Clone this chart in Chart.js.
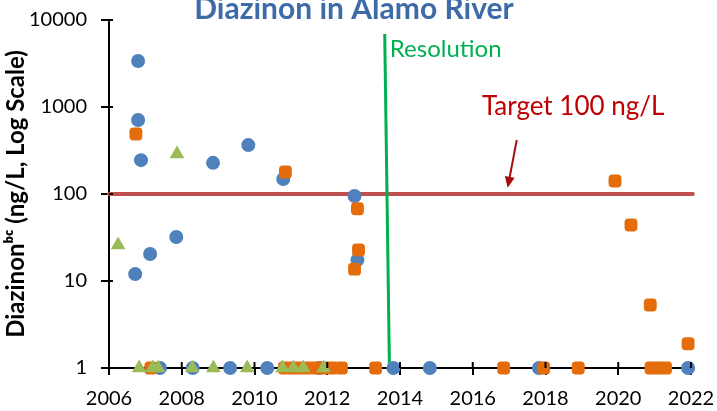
<!DOCTYPE html>
<html><head><meta charset="utf-8">
<script src="https://cdn.jsdelivr.net/npm/chart.js@4.4.1/dist/chart.umd.min.js"></script>
<style>html,body{margin:0;padding:0;background:#fff;}#wrap{width:717px;height:411px;}</style>
</head><body><div id="wrap"><canvas id="c" width="717" height="411"></canvas></div>
<script>
// Blue circles
const blueX = [2006.80,2006.80,2006.88,2006.72,2007.13,2007.85,2008.86,2009.83,2010.79,2012.75,2012.83,
               2007.40,2008.30,2009.33,2010.35,2011.78,2013.82,2014.82,2017.82,2021.92];
const blueY = [3380,710,245,12,20.4,32,228,365,149,95,17.5,
               1,1,1,1,1,1,1,1,1];
// Orange squares
const orangeX = [2006.74,2010.85,2012.83,2012.86,2012.75,2019.91,2020.35,2020.88,2021.92,
                 2007.15,2010.82,2011.04,2011.26,2011.48,2011.70,2011.92,2012.14,2012.39,2013.33,2016.85,2017.95,2018.90,2020.90,2021.10,2021.30];
const orangeY = [490,179,67.6,22.7,13.7,141,44,5.3,1.9,
                 1,1,1,1,1,1,1,1,1,1,1,1,1,1,1,1];
// Green triangles
const greenX = [2006.25,2007.87,2006.83,2007.20,2007.35,2008.29,2008.87,2009.80,2010.77,2011.07,2011.34,2011.90];
const greenY = [26,288,1,1,1,1,1,1,1,1,1,1];
// Target line and resolution line
const targetX = [2006,2022.05];
const targetY = [100,100];
const resolutionX = [2013.58,2013.71];
const resolutionY = [6900,1];
const xTicks = [2006,2008,2010,2012,2014,2016,2018,2020,2022];
const yTicks = [1,10,100,1000,10000];
// annotation anchors (data coords)
const targetLabel = {x:2018.76, y:1010, text:'Target 100 ng/L'};
const arrowFrom = {x:2017.21, y:418};
const arrowTo = {x:2016.96, y:118};
const resolutionLabel = {x:2013.72, y:4600, text:'Resolution'};
const titleText = 'Diazinon in Alamo River';
const yTitle = 'Diazinon\u1D47\u1D9C (ng/L, Log Scale)';

const pts = (xs, ys) => xs.map((x,i)=>({x:x,y:ys[i]}));
const FONT = 'Lato, "Open Sans", sans-serif';

const annot = {
  id:'annot',
  afterDraw(chart){
    const ctx = chart.ctx, xs = chart.scales.x, ys = chart.scales.y;
    const px = v=>xs.getPixelForValue(v), py = v=>ys.getPixelForValue(v);
    ctx.save();
    // inner tick marks (crossing)
    ctx.strokeStyle='#000'; ctx.lineWidth=2;
    xTicks.forEach(t=>{const x=px(t); ctx.beginPath(); ctx.moveTo(x,ys.bottom); ctx.lineTo(x,ys.bottom-6); ctx.stroke();});
    yTicks.forEach(t=>{const y=py(t); ctx.beginPath(); ctx.moveTo(xs.left,y); ctx.lineTo(xs.left+4,y); ctx.stroke();});
    // title
    ctx.fillStyle='#3D6BA8'; ctx.font='bold 30px '+FONT; ctx.textAlign='center'; ctx.textBaseline='alphabetic';
    ctx.fillText(titleText, 354, 19);
    ctx.textBaseline='middle';
    // target label
    ctx.fillStyle='#C00000'; ctx.font='26px '+FONT;
    ctx.fillText(targetLabel.text, px(targetLabel.x), py(targetLabel.y));
    // arrow
    const x1=px(arrowFrom.x), y1=py(arrowFrom.y), x2=px(arrowTo.x), y2=py(arrowTo.y);
    ctx.strokeStyle='#A50E0E'; ctx.fillStyle='#A50E0E'; ctx.lineWidth=2;
    const ang=Math.atan2(y2-y1,x2-x1);
    ctx.beginPath(); ctx.moveTo(x1,y1); ctx.lineTo(x2-8*Math.cos(ang),y2-8*Math.sin(ang)); ctx.stroke();
    ctx.beginPath(); ctx.moveTo(x2,y2);
    ctx.lineTo(x2-11*Math.cos(ang)+5*Math.sin(ang), y2-11*Math.sin(ang)-5*Math.cos(ang));
    ctx.lineTo(x2-11*Math.cos(ang)-5*Math.sin(ang), y2-11*Math.sin(ang)+5*Math.cos(ang));
    ctx.closePath(); ctx.fill();
    // resolution label
    ctx.fillStyle='#00B050'; ctx.font='24px '+FONT; ctx.textAlign='left';
    ctx.fillText(resolutionLabel.text, px(resolutionLabel.x), py(resolutionLabel.y));
    ctx.restore();
  }
};

new Chart(document.getElementById('c'), {
  type:'scatter',
  data:{datasets:[
    {label:'Green', data:pts(greenX,greenY), pointStyle:'triangle', pointRadius:8.5, backgroundColor:'#9BBB59', borderColor:'#9BBB59', borderWidth:0, order:0, clip:false},
    {label:'Orange', data:pts(orangeX,orangeY), pointStyle:'rectRounded', pointRadius:7.5, backgroundColor:'#E46C0A', borderColor:'#E46C0A', borderWidth:0, order:1, clip:false},
    {label:'Blue', data:pts(blueX,blueY), pointStyle:'circle', pointRadius:7, backgroundColor:'#4F81BD', borderColor:'#4F81BD', borderWidth:0, order:2, clip:false},
    {type:'line', label:'Target', data:pts(targetX,targetY), borderColor:'#C0504D', borderWidth:4, pointRadius:0, borderCapStyle:'round', order:4, clip:false},
    {type:'line', label:'Resolution', data:pts(resolutionX,resolutionY), borderColor:'#00B050', borderWidth:3, pointRadius:0, order:3, clip:false}
  ]},
  options:{
    responsive:false, animation:false,
    layout:{padding:{left:2,right:26,top:20,bottom:0}},
    plugins:{legend:{display:false}, tooltip:{enabled:false}},
    scales:{
      x:{type:'linear', min:2006, max:2022,
         afterBuildTicks:s=>{s.ticks=xTicks.map(v=>({value:v}));},
         afterFit:s=>{s.height=43; s.paddingLeft=0; s.paddingRight=0;},
         ticks:{color:'#000', font:{family:FONT,size:20}, padding:12, maxRotation:0, callback:v=>String(v)},
         grid:{display:true, drawOnChartArea:false, color:'#000', lineWidth:2, tickLength:7},
         border:{color:'#000', width:2}},
      y:{type:'logarithmic', min:1, max:10000,
         afterBuildTicks:s=>{s.ticks=yTicks.map(v=>({value:v}));},
         afterFit:s=>{s.width=107; s.paddingTop=0; s.paddingBottom=0;},
         ticks:{color:'#000', font:{family:FONT,size:20}, padding:14, callback:v=>String(v)},
         grid:{display:true, drawOnChartArea:false, color:'#000', lineWidth:2, tickLength:8},
         border:{color:'#000', width:2},
         title:{display:true, text:yTitle, color:'#000', font:{family:FONT,size:24,weight:'bold'}, padding:{top:0,bottom:2}}}
    }
  },
  plugins:[annot]
});
</script></body></html>
